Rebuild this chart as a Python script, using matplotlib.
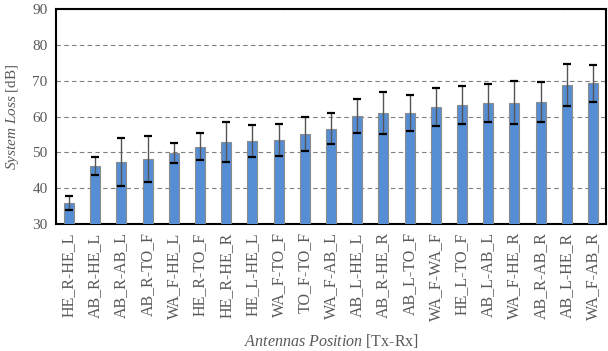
import matplotlib
matplotlib.use('Agg')
import matplotlib.pyplot as plt
import numpy as np

# System loss per Tx-Rx antenna pair (mean and spread, dB)
positions = ['HE_R-HE_L', 'AB_R-HE_L', 'AB_R-AB_L', 'AB_R-TO_F', 'WA_F-HE_L',
             'HE_R-TO_F', 'HE_R-HE_R', 'HE_L-HE_L', 'WA_F-TO_F', 'TO_F-TO_F',
             'WA_F-AB_L', 'AB_L-HE_L', 'AB_R-HE_R', 'AB_L-TO_F', 'WA_F-WA_F',
             'HE_L-TO_F', 'AB_L-AB_L', 'WA_F-HE_R', 'AB_R-AB_R', 'AB_L-HE_R',
             'WA_F-AB_R']
loss_mean = [35.8, 46.2, 47.3, 48.1, 49.8, 51.6, 52.8, 53.2, 53.4, 55.2,
             56.6, 60.1, 61.0, 61.0, 62.7, 63.2, 63.8, 63.8, 64.1, 68.8, 69.3]
loss_err = [1.9, 2.6, 6.6, 6.5, 2.7, 3.8, 5.6, 4.5, 4.4, 4.7,
            4.4, 4.8, 5.8, 5.0, 5.4, 5.3, 5.2, 6.0, 5.6, 5.8, 5.2]
yticks = [30, 40, 50, 60, 70, 80, 90]

plt.rcParams['font.family'] = 'Liberation Serif'
plt.rcParams['mathtext.fontset'] = 'custom'
plt.rcParams['mathtext.rm'] = 'Liberation Serif'
plt.rcParams['mathtext.it'] = 'Liberation Serif:italic'

text_grey = '#595959'

fig = plt.figure(figsize=(6.08, 3.51), dpi=100)
ax = fig.add_axes([0.092, 0.362, 0.905, 0.612])

x = np.arange(len(positions))
upper = np.array(loss_mean) + np.array(loss_err)
lower = np.array(loss_mean) - np.array(loss_err)

ax.bar(x, loss_mean, width=0.38, color='#558ED5', edgecolor='#8C8C8C',
       linewidth=0.8, zorder=3)
ax.errorbar(x, loss_mean, yerr=loss_err, fmt='none', ecolor='#555555',
            elinewidth=1.0, capsize=0, zorder=4)
# thick black caps drawn separately
ax.scatter(x, upper, marker='_', s=28, color='black', linewidths=1.6, zorder=5)
ax.scatter(x, lower, marker='_', s=28, color='black', linewidths=1.6, zorder=5)

ax.set_xlim(-0.5, len(positions) - 0.5)
ax.set_ylim(30, 90)
ax.set_yticks(yticks)
ax.set_xticks(x)
ax.set_xticklabels(positions, rotation=90, fontsize=11.5, color=text_grey)
ax.tick_params(axis='y', labelsize=11, labelcolor=text_grey, length=0, pad=6)
ax.tick_params(axis='x', length=0, pad=6)

ax.yaxis.grid(True, linestyle=(0, (4, 3)), color='#7F7F7F', linewidth=0.8)
ax.set_axisbelow(True)
for s in ax.spines.values():
    s.set_linewidth(1.5)
    s.set_color('black')

ax.set_ylabel(r'$\mathit{System\ Loss}$ [dB]', fontsize=11, color=text_grey,
              labelpad=8)
ax.set_xlabel(r'$\mathit{Antennas\ Position}$ [Tx-Rx]', fontsize=11.5,
              color=text_grey, labelpad=8)

fig.savefig('out.png', dpi=100)
